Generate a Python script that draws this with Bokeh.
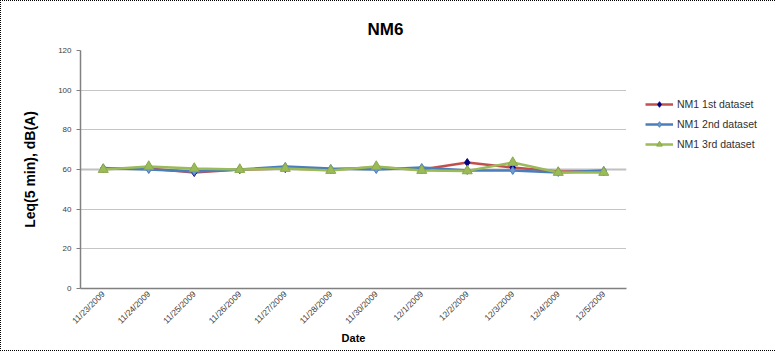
import math
from bokeh.plotting import figure
from bokeh.models import Legend, LegendItem, Span, Range1d, FixedTicker
from bokeh.embed import file_html
from bokeh.resources import INLINE

dates = ["11/23/2009", "11/24/2009", "11/25/2009", "11/26/2009", "11/27/2009",
         "11/28/2009", "11/30/2009", "12/1/2009", "12/2/2009", "12/3/2009",
         "12/4/2009", "12/5/2009"]
ds1 = [60.5, 60.5, 58.5, 60.0, 60.5, 60.0, 61.0, 60.0, 63.5, 61.0, 59.0, 59.0]
ds2 = [60.8, 60.0, 59.0, 60.0, 61.5, 60.5, 60.0, 61.0, 59.5, 59.5, 58.5, 59.5]
ds3 = [60.0, 61.5, 60.5, 60.0, 60.5, 59.5, 61.5, 59.5, 59.3, 63.5, 58.5, 58.5]
y_ticks = [0, 20, 40, 60, 80, 100, 120]
reference_level = 60

p = figure(x_range=dates, frame_width=546, frame_height=238, output_backend="svg",
           toolbar_location=None, min_border_left=79, min_border_right=148,
           min_border_top=49, min_border_bottom=62,
           styles={"border": "1px dotted #000"})
p.y_range = Range1d(0, 120)
p.yaxis.ticker = FixedTicker(ticks=y_ticks)

p.title.text = "NM6"
p.title.align = "left"
p.title.text_font = "Liberation Sans"
p.title.text_font_size = "17px"
p.title.text_font_style = "bold"
p.title.text_color = "#000000"
p.title.offset = 287
p.title.standoff = 24

p.outline_line_color = None
p.xgrid.grid_line_color = None
p.ygrid.grid_line_color = "#8a8a8a"
p.ygrid.grid_line_dash = "1 1"
p.ygrid.grid_line_width = 1

for ax in (p.xaxis, p.yaxis):
    ax.axis_line_color = "#808080"
    ax.axis_line_width = 1.5
    ax.major_label_text_font = "Liberation Sans"
    ax.major_label_text_font_size = "8px"
    ax.major_label_text_color = "#404040"
    ax.axis_label_text_font = "Liberation Sans"
    ax.axis_label_text_font_style = "bold"
    ax.axis_label_text_color = "#000000"
    ax.minor_tick_line_color = None

p.yaxis.major_tick_line_color = "#808080"
p.yaxis.major_tick_in = 0
p.yaxis.major_tick_out = 4
p.yaxis.axis_label = "Leq(5 min), dB(A)"
p.yaxis.axis_label_text_font_size = "14px"
p.yaxis.axis_label_standoff = 17

p.xaxis.major_tick_line_color = None
p.xaxis.major_tick_out = 0
p.xaxis.major_tick_in = 0
p.xaxis.major_label_text_font_size = "8.5px"
p.xaxis.major_label_standoff = 4
p.xaxis.major_label_orientation = math.pi / 4
p.xaxis.axis_label = "Date"
p.xaxis.axis_label_text_font_size = "11px"
p.xaxis.axis_label_standoff = 0

p.add_layout(Span(location=reference_level, dimension="width",
                  line_color="#c0c0c0", line_width=2, level="underlay"))

r1 = p.line(dates, ds1, line_color="#C0504D", line_width=2.5)
m1 = p.scatter(dates, ds1, marker="diamond", size=8, fill_color="#000080",
               line_color="#000080")
r2 = p.line(dates, ds2, line_color="#4A7EBB", line_width=2.5)
m2 = p.scatter(dates, ds2, marker="diamond", size=8, fill_color="#6f9bd1",
               line_color="#4A7EBB")
r3 = p.line(dates, ds3, line_color="#9BBB59", line_width=2.5)
m3 = p.scatter(dates, ds3, marker="triangle", size=10, fill_color="#9BBB59",
               line_color="#8aa84a")

legend = Legend(items=[LegendItem(label="NM1 1st dataset", renderers=[r1, m1]),
                       LegendItem(label="NM1 2nd dataset", renderers=[r2, m2]),
                       LegendItem(label="NM1 3rd dataset", renderers=[r3, m3])],
                location=(19, 137))
legend.border_line_color = None
legend.background_fill_alpha = 0
legend.label_text_font = "Liberation Sans"
legend.label_text_font_size = "10.5px"
legend.label_text_color = "#303030"
legend.glyph_width = 28
legend.glyph_height = 14
legend.label_height = 14
legend.spacing = 6
legend.padding = 2
legend.margin = 0
legend.label_standoff = 4
p.add_layout(legend, "right")

open("out.html", "w").write(file_html(p, INLINE))
